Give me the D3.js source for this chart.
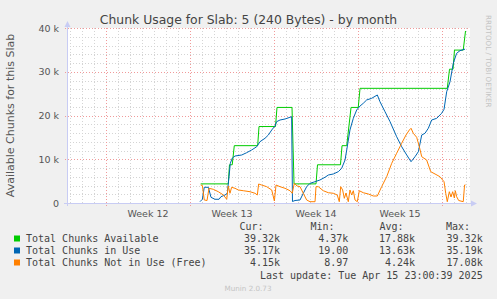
<!DOCTYPE html>
<html>
<head>
<meta charset="utf-8">
<script src="https://cdn.jsdelivr.net/npm/d3@7"></script>
<style>
  body { margin: 0; background: #f0f0f0; }
  svg { display: block; }
</style>
</head>
<body>
<div id="chart"></div>
<script>
// days are counted from the start of week 12 (Mon Mar 17 2025)
const weekLabels = ["Week 12", "Week 13", "Week 14", "Week 15"];
const yTicks = [0, 10000, 20000, 30000, 40000];

// Total Chunks Available: [day, value]
const available = [
  [7.89, 4369], [10.19, 4369], [10.29, 8738], [10.52, 8738], [10.69, 13107],
  [12.64, 13107], [12.75, 17476], [14.125, 17476], [14.25, 21845], [15.5, 21845],
  [15.67, 4369], [17.5, 4369], [17.625, 8738], [19.54, 8738], [19.67, 13107],
  [20.06, 13107], [20.42, 21845], [21.02, 21845], [21.17, 26214], [28.44, 26214],
  [28.625, 30583], [28.92, 30583], [29.04, 34952], [29.77, 34952], [29.96, 39321]
];

// Total Chunks in Use
const inUse = [
  [7.83, 300], [8.03, 850], [8.19, 3590], [8.53, 3590], [8.75, 1300], [9.08, 850],
  [9.42, 850], [9.58, 1440], [9.92, 1830], [10.11, 2220], [10.25, 6010], [10.36, 9080],
  [10.53, 10290], [10.75, 10740], [11.31, 10970], [11.72, 11500], [12.14, 12120],
  [12.56, 12870], [12.83, 14010], [13.25, 14790], [13.53, 15540], [13.81, 16690],
  [14.08, 17600], [14.22, 18590], [14.5, 18970], [14.92, 19200], [15.33, 19590],
  [15.47, 19730], [15.54, 340], [15.75, 570], [16.17, 690], [16.44, 2220], [16.72, 3730],
  [17, 4500], [17.42, 4870], [17.83, 5260], [18.25, 5880], [18.53, 6400], [18.94, 6630],
  [19.36, 7160], [19.64, 7930], [19.92, 9830], [20.06, 12120], [20.33, 16690],
  [20.61, 19360], [20.89, 21260], [21.17, 22170], [21.44, 22790], [21.72, 23550],
  [22.14, 23930], [22.61, 24690], [22.83, 23160], [23.25, 20870], [23.67, 18590],
  [24.22, 15160], [24.64, 12870], [25.06, 10970], [25.42, 9440], [25.75, 10580],
  [26.03, 11730], [26.31, 15540], [26.58, 15930], [26.86, 17080], [27.14, 18970],
  [27.56, 19360], [27.97, 20510], [28.17, 21420], [28.39, 25440], [28.67, 27730],
  [28.94, 31940], [29.22, 34220], [29.5, 34820], [29.92, 35170]
];

// Total Chunks Not in Use (Free)
const notInUse = [
  [7.89, 4110], [8.03, 4000], [8.19, 690], [8.42, 570], [8.58, 3360], [8.94, 3130],
  [9.36, 2580], [9.78, 1830], [10.06, 850], [10.19, 3890], [10.33, 2220], [10.47, 3590],
  [10.75, 3360], [11.03, 2970], [11.44, 2810], [12, 2580], [12.42, 2220], [12.61, 1830],
  [12.72, 4340], [12.97, 4110], [13.39, 3730], [13.81, 2970], [14.03, 460], [14.17, 4110],
  [14.5, 3730], [14.92, 3360], [15.33, 2810], [15.52, 2220], [15.69, 4500], [15.92, 3890],
  [16.17, 3730], [16.44, 2220], [16.72, 690], [17, 300], [17.42, 300], [17.5, 3730],
  [17.69, 3730], [18.11, 2810], [18.53, 2350], [18.94, 2220], [19.27, 1830], [19.44, 300],
  [19.56, 3730], [19.72, 2970], [19.86, 1070], [20, 2290], [20.19, 300], [20.33, 2970],
  [20.47, 1830], [20.61, 2810], [20.75, 690], [20.94, 300], [21.11, 2810], [21.44, 2350],
  [21.86, 2060], [22.28, 1600], [22.61, 1600], [22.97, 3730], [23.39, 6010], [23.81, 9080],
  [24.22, 11360], [24.64, 13650], [25, 15540], [25.28, 16690], [25.42, 17080],
  [25.61, 15930], [25.89, 15020], [26.11, 12870], [26.31, 10580], [26.72, 9830],
  [27.06, 7160], [27.42, 6630], [27.83, 6010], [28.17, 4870], [28.31, 2220], [28.44, 300],
  [28.61, 2580], [28.75, 1370], [28.89, 2580], [29.03, 1140], [29.11, 2810], [29.22, 1440],
  [29.39, 570], [29.77, 300], [29.88, 4110], [29.96, 4150]
];

const legendNames = ["Total Chunks Available", "Total Chunks in Use", "Total Chunks Not in Use (Free)"];
const legendColors = ["#00cc00", "#0066b3", "#ff8000"];
const legendHeaders = ["Cur:", "Min:", "Avg:", "Max:"];
const legendValues = [
  ["39.32k", "4.37k", "17.88k", "39.32k"],
  ["35.17k", "19.00 ", "13.63k", "35.19k"],
  ["4.15k", "8.97 ", "4.24k", "17.08k"]
];

const W = 497, H = 299;
const plot = { left: 67, right: 470, top: 28, bottom: 203 };

const svg = d3.select("#chart").append("svg")
  .attr("width", W).attr("height", H);

svg.append("rect").attr("width", W).attr("height", H).attr("fill", "#f0f0f0");
svg.append("rect")
  .attr("x", plot.left).attr("y", plot.top)
  .attr("width", plot.right - plot.left).attr("height", plot.bottom - plot.top)
  .attr("fill", "#ffffff");

const x = d3.scaleLinear().domain([-3.25, 30.333]).range([plot.left, plot.right]);
const y = d3.scaleLinear().domain([0, 40000]).range([plot.bottom, plot.top]);

// minor grid: every day / every 2k
const grid = svg.append("g").attr("shape-rendering", "crispEdges");
const days = d3.range(-3, 31).filter(d => d % 7 !== 0);
grid.selectAll(".vmin").data(days).enter().append("line")
  .attr("x1", d => Math.round(x(d)) + 0.5).attr("x2", d => Math.round(x(d)) + 0.5)
  .attr("y1", plot.top).attr("y2", plot.bottom)
  .attr("stroke", "#d4d4d4").attr("stroke-dasharray", "1,2");
const minorY = d3.range(2000, 40001, 2000).filter(v => v % 10000 !== 0);
grid.selectAll(".hmin").data(minorY).enter().append("line")
  .attr("x1", plot.left).attr("x2", plot.right)
  .attr("y1", d => Math.round(y(d)) + 0.5).attr("y2", d => Math.round(y(d)) + 0.5)
  .attr("stroke", "#d4d4d4").attr("stroke-dasharray", "1,2");

// major grid
grid.selectAll(".vmaj").data([0, 7, 14, 21, 28]).enter().append("line")
  .attr("x1", d => Math.round(x(d)) + 0.5).attr("x2", d => Math.round(x(d)) + 0.5)
  .attr("y1", plot.top).attr("y2", plot.bottom + 3)
  .attr("stroke", "#f09a9a").attr("stroke-dasharray", "1,2");
grid.selectAll(".hmaj").data(yTicks.slice(1)).enter().append("line")
  .attr("x1", plot.left - 2).attr("x2", plot.right)
  .attr("y1", d => Math.round(y(d)) + 0.5).attr("y2", d => Math.round(y(d)) + 0.5)
  .attr("stroke", "#f09a9a").attr("stroke-dasharray", "1,2");

// axes (rrdtool style with arrows)
const axisColor = "#c8ccf4";
svg.append("line")
  .attr("x1", plot.left + 0.5).attr("x2", plot.left + 0.5)
  .attr("y1", plot.bottom + 3).attr("y2", plot.top - 3)
  .attr("stroke", axisColor);
svg.append("line")
  .attr("x1", plot.left - 3).attr("x2", plot.right + 2)
  .attr("y1", plot.bottom + 0.5).attr("y2", plot.bottom + 0.5)
  .attr("stroke", axisColor);
svg.append("path")
  .attr("d", `M${plot.left - 2.5},${plot.top - 1} L${plot.left + 0.5},${plot.top - 7} L${plot.left + 3.5},${plot.top - 1} Z`)
  .attr("fill", axisColor);
svg.append("path")
  .attr("d", `M${plot.right + 1},${plot.bottom - 2.5} L${plot.right + 7},${plot.bottom + 0.5} L${plot.right + 1},${plot.bottom + 3.5} Z`)
  .attr("fill", axisColor);

// y tick labels
const fmtK = d => d === 0 ? "0" : (d / 1000) + " k";
svg.append("g").selectAll("text").data(yTicks).enter().append("text")
  .attr("x", plot.left - 8).attr("y", d => y(d) + 3.5)
  .attr("text-anchor", "end")
  .attr("font-family", "DejaVu Sans").attr("font-size", 9.5)
  .attr("fill", "#555").text(fmtK);

// x labels
svg.append("g").selectAll("text").data(weekLabels).enter().append("text")
  .attr("x", (d, i) => x(i * 7 + 3.5)).attr("y", 217)
  .attr("text-anchor", "middle")
  .attr("font-family", "DejaVu Sans").attr("font-size", 9.5)
  .attr("fill", "#555").text(d => d);

// titles
svg.append("text")
  .attr("x", 248.5).attr("y", 24)
  .attr("text-anchor", "middle")
  .attr("font-family", "DejaVu Sans").attr("font-size", 12.4)
  .attr("fill", "#444")
  .text("Chunk Usage for Slab: 5 (240 Bytes) - by month");

svg.append("text")
  .attr("transform", `translate(14, ${(plot.top + plot.bottom) / 2}) rotate(-90)`)
  .attr("text-anchor", "middle")
  .attr("font-family", "DejaVu Sans").attr("font-size", 11)
  .attr("fill", "#555")
  .text("Available Chunks for this Slab");

svg.append("text")
  .attr("transform", "translate(486, 15) rotate(90)")
  .attr("font-family", "DejaVu Sans").attr("font-size", 7.2)
  .attr("fill", "#c4c4c4")
  .text("RRDTOOL / TOBI OETIKER");

// series lines
const line = d3.line().x(d => x(d[0])).y(d => y(d[1]));
[available, inUse, notInUse].forEach((s, i) => {
  svg.append("path")
    .datum(s)
    .attr("d", line)
    .attr("fill", "none")
    .attr("stroke", legendColors[i])
    .attr("stroke-width", 1)
    .attr("stroke-linejoin", "round");
});

// legend
const mono = "DejaVu Sans Mono";
const colEnds = [280, 348.3, 415, 482.7];
const headerEnds = [263.5, 334.5, 403.5, 470];
const legend = svg.append("g")
  .attr("font-family", mono).attr("font-size", 10).attr("fill", "#444")
  .style("white-space", "pre");

legend.selectAll(".hdr").data(legendHeaders).enter().append("text")
  .attr("x", (d, i) => headerEnds[i]).attr("y", 230)
  .attr("text-anchor", "end").text(d => d);

legendNames.forEach((name, r) => {
  const yy = 242 + r * 12;
  legend.append("rect")
    .attr("x", 14).attr("y", yy - 6.5).attr("width", 6).attr("height", 6)
    .attr("fill", legendColors[r]);
  legend.append("text").attr("x", 26).attr("y", yy).text(name);
  legend.selectAll(null).data(legendValues[r]).enter().append("text")
    .attr("x", (d, i) => colEnds[i]).attr("y", yy)
    .attr("text-anchor", "end").text(d => d);
});

legend.append("text")
  .attr("x", 482.7).attr("y", 279)
  .attr("text-anchor", "end")
  .text("Last update: Tue Apr 15 23:00:39 2025");

svg.append("text")
  .attr("x", 248).attr("y", 291)
  .attr("text-anchor", "middle")
  .attr("font-family", "DejaVu Sans").attr("font-size", 7.2)
  .attr("fill", "#c4c4c4")
  .text("Munin 2.0.73");
</script>
</body>
</html>
